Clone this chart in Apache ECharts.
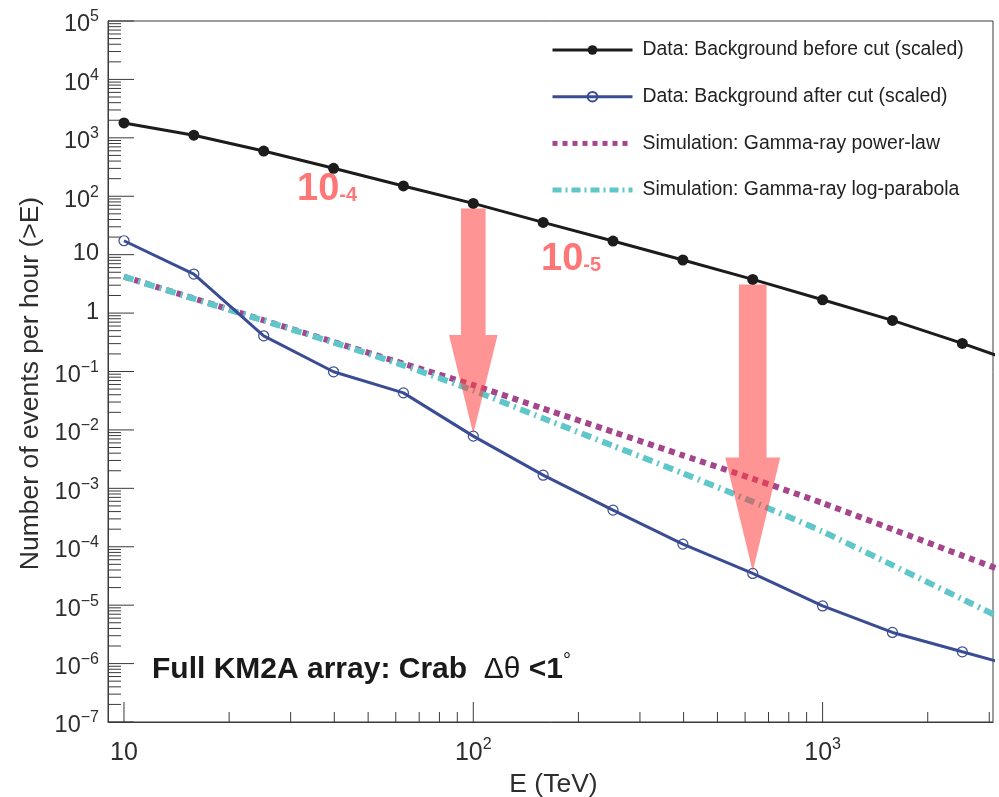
<!DOCTYPE html>
<html>
<head>
<meta charset="utf-8">
<script src="https://cdn.jsdelivr.net/npm/echarts@6/dist/echarts.min.js"></script>
<style>
  html, body { margin: 0; padding: 0; background: #fff; }
  #chart { width: 999px; height: 797px; }
</style>
</head>
<body>
<div id="chart"></div>
<script>
// Energy thresholds (TeV), 0.2-decade steps
const energies = [10, 15.85, 25.12, 39.81, 63.1, 100, 158.5, 251.2, 398.1, 631, 1000, 1585, 2512];
// Next threshold beyond the axis end; lines run on to it and get clipped at the frame
const edgeEnergy = 3981;

// Integral event rates per hour (>E)
const beforeCut = [1800, 1110, 594, 301, 150, 75.5, 35.7, 17.1, 8.1, 3.77, 1.69, 0.75, 0.303];
const beforeCutEdge = 0.115;
const afterCut = [17.3, 4.66, 0.408, 0.0989, 0.0431, 0.00783, 0.00168, 4.24e-4, 1.11e-4, 3.49e-5, 9.7e-6, 3.41e-6, 1.59e-6];
const afterCutEdge = 7.5e-7;
const powerLaw = [4.19, 1.78, 0.753, 0.320, 0.136, 0.0585, 0.0232, 0.00924, 0.00367, 0.00146, 5.6e-4, 1.99e-4, 7.06e-5];
const powerLawEdge = 2.5e-5;
const logParabola = [4.19, 1.76, 0.745, 0.313, 0.127, 0.0474, 0.0158, 0.00535, 0.00181, 5.9e-4, 1.82e-4, 4.84e-5, 1.27e-5];
const logParabolaEdge = 3.3e-6;

// Rejection arrows: energies where the cut is illustrated, and their labels
const arrowEnergies = [100, 631];
const rejectionLabels = ['-4', '-5'];

const seriesNames = [
  'Data: Background before cut (scaled)',
  'Data: Background after cut (scaled)',
  'Simulation: Gamma-ray power-law',
  'Simulation: Gamma-ray log-parabola'
];

// Axis ranges
const xRange = [9, 3075];
const yRange = [1e-7, 1e5];
const yDecades = [-7, -6, -5, -4, -3, -2, -1, 0, 1, 2, 3, 4, 5];
const minorMultipliers = [2, 3, 4, 5, 6, 7, 8, 9];

const FONT = "'Liberation Sans', Arial, Helvetica, sans-serif";
const AXIS_COLOR = '#3a3a3a';
const LABEL_COLOR = '#2e2e2e';

const COLORS = {
  before: '#1c1c1c',
  after: '#3a4c94',
  power: '#a4468c',
  parabola: '#5fc6ca',
  arrow: 'rgba(255, 64, 64, 0.56)',
  note: '#ff7676'
};

function pairs(vals, edge) {
  const d = energies.map((e, i) => [e, vals[i]]);
  d.push({ value: [edgeEnergy, edge], symbol: 'none' });
  return d;
}

// Tick marks: [x, y, axis (0 = bottom, 1 = left), major flag]
const tickData = [];
yDecades.forEach(n => {
  tickData.push([xRange[0], Math.pow(10, n), 1, 1]);
  if (n < yDecades[yDecades.length - 1]) {
    minorMultipliers.forEach(m => tickData.push([xRange[0], m * Math.pow(10, n), 1, 0]));
  }
});
[0, 1, 2, 3].forEach(n => {
  const base = Math.pow(10, n);
  if (n >= 1) tickData.push([base, yRange[0], 0, 1]);
  minorMultipliers.forEach(m => {
    const v = m * base;
    if (v > xRange[0] && v < xRange[1]) tickData.push([v, yRange[0], 0, 0]);
  });
});

function renderTick(params, api) {
  const axis = api.value(2);
  const major = api.value(3);
  const p = api.coord([api.value(0), api.value(1)]);
  if (axis === 1) {
    const len = major ? 26 : 13;
    return { type: 'line', shape: { x1: p[0], y1: p[1], x2: p[0] + len, y2: p[1] },
      style: { stroke: AXIS_COLOR, lineWidth: 1 } };
  }
  const len = major ? 20 : 10;
  return { type: 'line', shape: { x1: p[0], y1: p[1], x2: p[0], y2: p[1] - len },
    style: { stroke: AXIS_COLOR, lineWidth: 1 } };
}

// Arrow geometry in pixels (shaft half-width, head half-width, head length)
const arrowGeom = [
  { shaft: 12.3, head: 24.3, headLen: 99 },
  { shaft: 13.8, head: 27.5, headLen: 114 }
];
const arrowData = arrowEnergies.map(e => {
  const i = energies.indexOf(e);
  return [e, beforeCut[i], afterCut[i]];
});

function renderArrow(params, api) {
  const g = arrowGeom[params.dataIndex];
  const top = api.coord([api.value(0), api.value(1)]);
  const bot = api.coord([api.value(0), api.value(2)]);
  const cx = top[0];
  const y0 = top[1] + 5;
  const tip = bot[1] - 2;
  const hb = tip - g.headLen;
  return {
    type: 'polygon',
    shape: { points: [
      [cx - g.shaft, y0], [cx + g.shaft, y0], [cx + g.shaft, hb], [cx + g.head, hb],
      [cx, tip], [cx - g.head, hb], [cx - g.shaft, hb]
    ] },
    style: { fill: COLORS.arrow }
  };
}

function powerLabel(v) {
  const n = Math.round(Math.log10(v));
  if (Math.abs(Math.log10(v) - n) > 1e-6) return '';
  if (n === 0) return '{p|1}';
  if (n === 1) return '{p|10}';
  return '{a|10}{s|' + (n < 0 ? '\u2212' : '') + Math.abs(n) + '}';
}

function noteText(sub) {
  return {
    text: '{a|10}{b|' + sub + '}',
    verticalAlign: 'top',
    rich: {
      a: { fontFamily: FONT, fontSize: 38, fontWeight: 'bold', fill: COLORS.note, lineHeight: 40, verticalAlign: 'bottom' },
      b: { fontFamily: FONT, fontSize: 20, fontWeight: 'bold', fill: COLORS.note, lineHeight: 20, padding: [0, 0, 4, 0], verticalAlign: 'bottom' }
    }
  };
}

const chart = echarts.init(document.getElementById('chart'), null, { renderer: 'canvas' });

chart.setOption({
  animation: false,
  backgroundColor: '#ffffff',
  textStyle: { fontFamily: FONT },
  grid: {
    left: 108, right: 6, top: 21, bottom: 75,
    outerBoundsMode: 'none',
    show: true, borderColor: AXIS_COLOR, borderWidth: 1
  },
  legend: {
    orient: 'vertical',
    left: 545,
    top: 34,
    itemWidth: 80,
    itemHeight: 12,
    itemGap: 24.7,
    data: [
      { name: seriesNames[0], lineStyle: { width: 3 } },
      { name: seriesNames[1], lineStyle: { width: 3 } },
      { name: seriesNames[2], itemStyle: { opacity: 0 }, lineStyle: { width: 5, type: [5, 5] } },
      { name: seriesNames[3], itemStyle: { opacity: 0 }, lineStyle: { width: 5, type: [9, 4, 2, 4] } }
    ],
    textStyle: { fontFamily: FONT, fontSize: 19.4, color: '#222', lineHeight: 22, padding: [0, 0, 0, 5] }
  },
  xAxis: {
    type: 'log',
    logBase: 10,
    min: xRange[0],
    max: xRange[1],
    splitNumber: 3,
    name: 'E (TeV)',
    nameLocation: 'middle',
    nameGap: 46,
    nameTextStyle: { fontFamily: FONT, fontSize: 26.5, color: LABEL_COLOR, padding: [0, 0, 0, 6] },
    axisLine: { show: true, lineStyle: { color: AXIS_COLOR, width: 1 } },
    axisTick: { show: false },
    splitLine: { show: false },
    axisLabel: {
      margin: 18,
      showMinLabel: false,
      showMaxLabel: false,
      formatter: v => powerLabel(v),
      rich: {
        a: { fontFamily: FONT, fontSize: 25, lineHeight: 26, color: LABEL_COLOR, verticalAlign: 'bottom' },
        s: { fontFamily: FONT, fontSize: 16, lineHeight: 16, color: LABEL_COLOR, padding: [0, 0, 13, 0], verticalAlign: 'bottom' },
        p: { fontFamily: FONT, fontSize: 25, lineHeight: 26, color: LABEL_COLOR, padding: [3, 0, 0, 0], verticalAlign: 'bottom' }
      }
    }
  },
  yAxis: {
    type: 'log',
    logBase: 10,
    min: yRange[0],
    max: yRange[1],
    interval: 1,
    name: 'Number of events per hour (>E)',
    nameLocation: 'middle',
    nameGap: 63,
    nameTextStyle: { fontFamily: FONT, fontSize: 26.5, color: LABEL_COLOR, padding: [0, 24, 0, 0] },
    axisLine: { show: true, lineStyle: { color: AXIS_COLOR, width: 1 } },
    axisTick: { show: false },
    splitLine: { show: false },
    axisLabel: {
      margin: 9,
      padding: [8, 0, 0, 0],
      formatter: v => powerLabel(v),
      rich: {
        a: { fontFamily: FONT, fontSize: 23.5, lineHeight: 24, color: LABEL_COLOR, verticalAlign: 'bottom' },
        s: { fontFamily: FONT, fontSize: 16, lineHeight: 16, color: LABEL_COLOR, padding: [0, 0, 12, 0], verticalAlign: 'bottom' },
        p: { fontFamily: FONT, fontSize: 23.5, lineHeight: 24, color: LABEL_COLOR, padding: [0, 0, 5, 0], verticalAlign: 'bottom' }
      }
    }
  },
  graphic: [
    {
      type: 'text', left: 152, top: 651, silent: true,
      style: {
        text: '{b|Full KM2A array: Crab  }{g|\u0394\u03b8}{b| <1}{d|\u00b0}',
        rich: {
          b: { fontFamily: FONT, fontSize: 30, fontWeight: 'bold', fill: '#1a1a1a', lineHeight: 34, verticalAlign: 'bottom' },
          g: { fontFamily: FONT, fontSize: 30, fill: '#1a1a1a', lineHeight: 34, verticalAlign: 'bottom' },
          d: { fontFamily: FONT, fontSize: 20, fill: '#1a1a1a', lineHeight: 20, padding: [0, 0, 14, 0], verticalAlign: 'bottom' }
        }
      }
    },
    { type: 'text', x: 297, y: 169, silent: true, style: noteText(rejectionLabels[0]) },
    { type: 'text', x: 541, y: 239, silent: true, style: noteText(rejectionLabels[1]) }
  ],
  series: [
    {
      name: 'ticks',
      type: 'custom',
      silent: true,
      clip: false,
      encode: { x: 0, y: 1 },
      renderItem: renderTick,
      data: tickData,
      z: 1
    },
    {
      name: seriesNames[2],
      type: 'line',
      data: pairs(powerLaw, powerLawEdge),
      showSymbol: false,
      symbol: 'none',
      smooth: 0.2,
      itemStyle: { color: COLORS.power },
      lineStyle: { color: COLORS.power, width: 6, type: [6, 5] },
      z: 3
    },
    {
      name: seriesNames[3],
      type: 'line',
      data: pairs(logParabola, logParabolaEdge),
      showSymbol: false,
      symbol: 'none',
      smooth: 0.2,
      itemStyle: { color: COLORS.parabola },
      lineStyle: { color: COLORS.parabola, width: 6, type: [10, 5, 2, 5] },
      z: 3
    },
    {
      name: seriesNames[0],
      type: 'line',
      data: pairs(beforeCut, beforeCutEdge),
      symbol: 'circle',
      symbolSize: 11,
      itemStyle: { color: COLORS.before },
      lineStyle: { color: COLORS.before, width: 3 },
      z: 4
    },
    {
      name: seriesNames[1],
      type: 'line',
      data: pairs(afterCut, afterCutEdge),
      symbol: 'circle',
      symbolSize: 10,
      itemStyle: { color: 'rgba(255,255,255,0)', borderColor: COLORS.after, borderWidth: 1.2 },
      lineStyle: { color: COLORS.after, width: 3 },
      z: 4
    },
    {
      name: 'arrows',
      type: 'custom',
      silent: true,
      encode: { x: 0, y: [1, 2] },
      renderItem: renderArrow,
      data: arrowData,
      z: 6
    }
  ]
});
</script>
</body>
</html>
